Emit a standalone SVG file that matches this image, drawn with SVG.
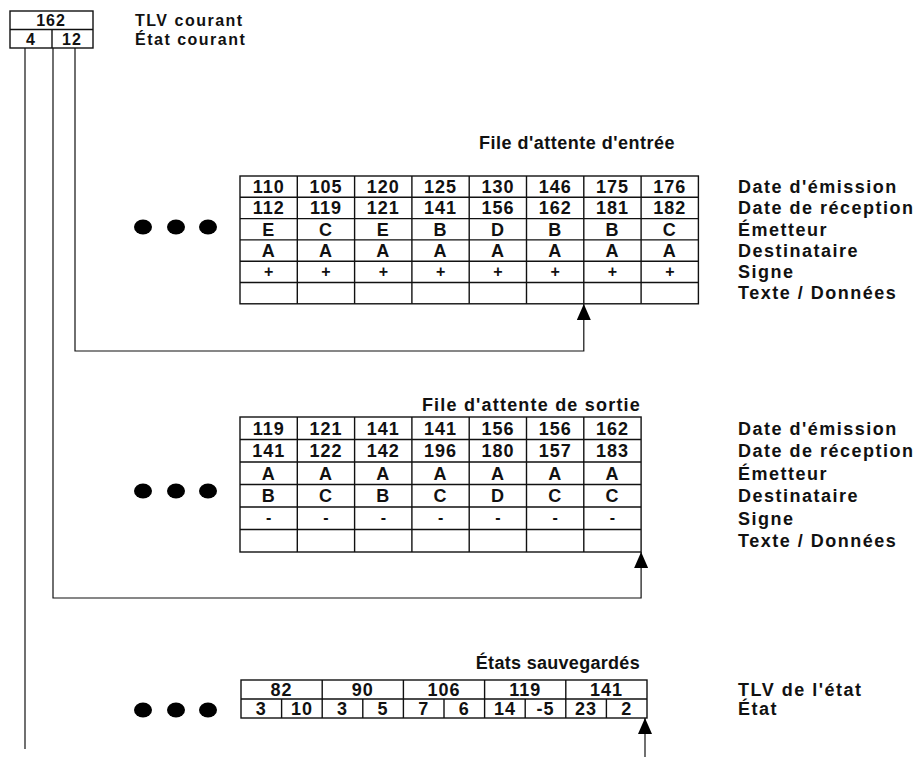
<svg xmlns="http://www.w3.org/2000/svg" width="924" height="757" viewBox="0 0 924 757">
<defs>
<style>
text{font-family:"Liberation Sans",Arial,sans-serif;font-weight:bold;fill:#111;}
.c{font-size:18px;letter-spacing:1px;text-anchor:middle;}
.ct{font-size:16px;letter-spacing:1px;text-anchor:middle;}
.s{font-size:16px;text-anchor:middle;}
.l{font-size:18px;letter-spacing:1.5px;}
.lt{font-size:16px;letter-spacing:1.5px;}
.t{font-size:18px;letter-spacing:1.2px;text-anchor:end;}
.g{fill:none;stroke:#111;stroke-width:1.4;}
.ln{fill:none;stroke:#111;stroke-width:1.2;}
.dot{fill:#000;}
</style>
<marker id="ah" viewBox="0 0 16 14" refX="16" refY="7" markerWidth="16" markerHeight="14" markerUnits="userSpaceOnUse" orient="auto">
<path d="M0,0 L16,7 L0,14 Z" fill="#000"/>
</marker>
</defs>
<rect width="924" height="757" fill="#fff"/>

<g id="etat-courant">
<rect class="g" x="10" y="11" width="83" height="37"/>
<line class="g" x1="10" y1="29.5" x2="93" y2="29.5"/>
<line class="g" x1="52" y1="29.5" x2="52" y2="48"/>
<text class="ct" x="51" y="26">162</text>
<text class="ct" x="31" y="44.5">4</text>
<text class="ct" x="72" y="44.5">12</text>
<text class="lt" x="135" y="26">TLV courant</text>
<text class="lt" x="135" y="45">État courant</text>
</g>

<g id="file-entree">
<text class="t" x="675" y="149" style="letter-spacing:0.5px">File d'attente d'entrée</text>
<rect class="g" x="240" y="176" width="458.4" height="127.8"/>
<path class="g" d="M240,197.3H698.4M240,218.6H698.4M240,239.9H698.4M240,261.2H698.4M240,282.5H698.4M297.3,176V303.8M354.6,176V303.8M411.9,176V303.8M469.2,176V303.8M526.5,176V303.8M583.8,176V303.8M641.1,176V303.8"/>
<g class="cells">
<text class="c" x="268.7" y="193">110</text><text class="c" x="326" y="193">105</text><text class="c" x="383.3" y="193">120</text><text class="c" x="440.6" y="193">125</text><text class="c" x="497.9" y="193">130</text><text class="c" x="555.2" y="193">146</text><text class="c" x="612.5" y="193">175</text><text class="c" x="669.8" y="193">176</text>
<text class="c" x="268.7" y="214">112</text><text class="c" x="326" y="214">119</text><text class="c" x="383.3" y="214">121</text><text class="c" x="440.6" y="214">141</text><text class="c" x="497.9" y="214">156</text><text class="c" x="555.2" y="214">162</text><text class="c" x="612.5" y="214">181</text><text class="c" x="669.8" y="214">182</text>
<text class="c" x="268.7" y="235.5">E</text><text class="c" x="326" y="235.5">C</text><text class="c" x="383.3" y="235.5">E</text><text class="c" x="440.6" y="235.5">B</text><text class="c" x="497.9" y="235.5">D</text><text class="c" x="555.2" y="235.5">B</text><text class="c" x="612.5" y="235.5">B</text><text class="c" x="669.8" y="235.5">C</text>
<text class="c" x="268.7" y="257">A</text><text class="c" x="326" y="257">A</text><text class="c" x="383.3" y="257">A</text><text class="c" x="440.6" y="257">A</text><text class="c" x="497.9" y="257">A</text><text class="c" x="555.2" y="257">A</text><text class="c" x="612.5" y="257">A</text><text class="c" x="669.8" y="257">A</text>
<text class="s" x="268.7" y="277">+</text><text class="s" x="326" y="277">+</text><text class="s" x="383.3" y="277">+</text><text class="s" x="440.6" y="277">+</text><text class="s" x="497.9" y="277">+</text><text class="s" x="555.2" y="277">+</text><text class="s" x="612.5" y="277">+</text><text class="s" x="669.8" y="277">+</text>
</g>
<text class="l" x="738" y="193">Date d'émission</text>
<text class="l" x="738" y="214">Date de réception</text>
<text class="l" x="738" y="235.5">Émetteur</text>
<text class="l" x="738" y="257">Destinataire</text>
<text class="l" x="738" y="278">Signe</text>
<text class="l" x="738" y="299">Texte / Données</text>
</g>
<g id="dots-entree">
<ellipse class="dot" cx="143" cy="227" rx="9" ry="7.5"/><ellipse class="dot" cx="176" cy="227" rx="9" ry="7.5"/><ellipse class="dot" cx="208" cy="227" rx="9" ry="7.5"/>
</g>

<g id="file-sortie">
<text class="t" x="641" y="411">File d'attente de sortie</text>
<rect class="g" x="240" y="417" width="401.1" height="135"/>
<path class="g" d="M240,439.5H641.1M240,462H641.1M240,484.5H641.1M240,507H641.1M240,529.5H641.1M297.3,417V552M354.6,417V552M411.9,417V552M469.2,417V552M526.5,417V552M583.8,417V552"/>
<g class="cells">
<text class="c" x="268.7" y="434.5">119</text><text class="c" x="326" y="434.5">121</text><text class="c" x="383.3" y="434.5">141</text><text class="c" x="440.6" y="434.5">141</text><text class="c" x="497.9" y="434.5">156</text><text class="c" x="555.2" y="434.5">156</text><text class="c" x="612.5" y="434.5">162</text>
<text class="c" x="268.7" y="457">141</text><text class="c" x="326" y="457">122</text><text class="c" x="383.3" y="457">142</text><text class="c" x="440.6" y="457">196</text><text class="c" x="497.9" y="457">180</text><text class="c" x="555.2" y="457">157</text><text class="c" x="612.5" y="457">183</text>
<text class="c" x="268.7" y="479.5">A</text><text class="c" x="326" y="479.5">A</text><text class="c" x="383.3" y="479.5">A</text><text class="c" x="440.6" y="479.5">A</text><text class="c" x="497.9" y="479.5">A</text><text class="c" x="555.2" y="479.5">A</text><text class="c" x="612.5" y="479.5">A</text>
<text class="c" x="268.7" y="502">B</text><text class="c" x="326" y="502">C</text><text class="c" x="383.3" y="502">B</text><text class="c" x="440.6" y="502">C</text><text class="c" x="497.9" y="502">D</text><text class="c" x="555.2" y="502">C</text><text class="c" x="612.5" y="502">C</text>
<text class="s" x="268.7" y="522.5">-</text><text class="s" x="326" y="522.5">-</text><text class="s" x="383.3" y="522.5">-</text><text class="s" x="440.6" y="522.5">-</text><text class="s" x="497.9" y="522.5">-</text><text class="s" x="555.2" y="522.5">-</text><text class="s" x="612.5" y="522.5">-</text>
</g>
<text class="l" x="738" y="434.5">Date d'émission</text>
<text class="l" x="738" y="457">Date de réception</text>
<text class="l" x="738" y="479.5">Émetteur</text>
<text class="l" x="738" y="502">Destinataire</text>
<text class="l" x="738" y="524.5">Signe</text>
<text class="l" x="738" y="547">Texte / Données</text>
</g>
<g id="dots-sortie">
<ellipse class="dot" cx="143" cy="491" rx="9" ry="7.5"/><ellipse class="dot" cx="176" cy="491" rx="9" ry="7.5"/><ellipse class="dot" cx="208" cy="491" rx="9" ry="7.5"/>
</g>

<g id="etats-sauvegardes">
<text class="t" x="640" y="669" style="letter-spacing:0.3px">États sauvegardés</text>
<rect class="g" x="241" y="680" width="406" height="38"/>
<path class="g" d="M241,699H647M322.2,680V718M403.4,680V718M484.6,680V718M565.8,680V718M281.6,699V718M362.8,699V718M444,699V718M525.2,699V718M606.4,699V718"/>
<text class="c" x="281.6" y="696">82</text><text class="c" x="362.8" y="696">90</text><text class="c" x="444" y="696">106</text><text class="c" x="525.2" y="696">119</text><text class="c" x="606.4" y="696">141</text>
<text class="c" x="261.3" y="715">3</text><text class="c" x="301.9" y="715">10</text><text class="c" x="342.5" y="715">3</text><text class="c" x="383.1" y="715">5</text><text class="c" x="423.7" y="715">7</text><text class="c" x="464.3" y="715">6</text><text class="c" x="504.9" y="715">14</text><text class="c" x="545.5" y="715">-5</text><text class="c" x="586.1" y="715">23</text><text class="c" x="626.7" y="715">2</text>
<text class="l" x="738" y="696">TLV de l'état</text>
<text class="l" x="738" y="715">État</text>
</g>
<g id="dots-etats">
<ellipse class="dot" cx="143" cy="710" rx="9" ry="7.5"/><ellipse class="dot" cx="176" cy="710" rx="9" ry="7.5"/><ellipse class="dot" cx="208" cy="710" rx="9" ry="7.5"/>
</g>

<g id="connectors">
<path class="ln" d="M75,48V351H583.8V304" marker-end="url(#ah)"/>
<path class="ln" d="M53,48V598H641.1V552" marker-end="url(#ah)"/>
<path class="ln" d="M25,48V749"/>
<path class="ln" d="M645,757V718" marker-end="url(#ah)"/>
</g>
</svg>
